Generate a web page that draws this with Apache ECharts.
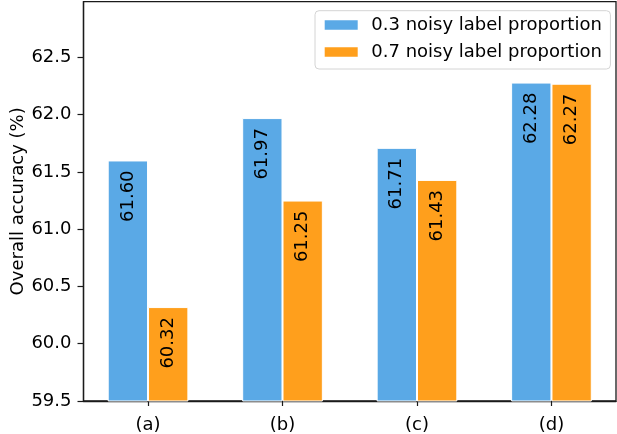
<!DOCTYPE html>
<html><head><meta charset="utf-8">
<script src="https://cdn.jsdelivr.net/npm/echarts@6/dist/echarts.min.js"></script>
<style>html,body{margin:0;padding:0;background:#fff}#c{width:617px;height:434px}</style>
</head><body><div id="c"></div>
<script>
const categories = ['(a)', '(b)', '(c)', '(d)'];
const series03 = [61.60, 61.97, 61.71, 62.28];
const series07 = [60.32, 61.25, 61.43, 62.27];
const seriesNames = ['0.3 noisy label proportion', '0.7 noisy label proportion'];
const yTicks = [59.5, 60.0, 60.5, 61.0, 61.5, 62.0, 62.5];

const FONT = 'DejaVu Sans';
const FS = 18;
const gridL = 83.5, gridR = 1, gridT = 1.7, gridB = 33;
const xMin = -0.48, xMax = 3.48, barFrac = 0.3;
const W = 617;
const barW = (W - gridL - gridR) / (xMax - xMin) * barFrac;

const chart = echarts.init(document.getElementById('c'), null, {renderer: 'canvas'});
const labelCfg = {
  show: true, position: 'insideTop', distance: 10, rotate: 90,
  align: 'right', verticalAlign: 'middle',
  fontFamily: FONT, fontSize: FS, color: '#000',
  formatter: p => p.value[1].toFixed(2)
};
chart.setOption({
  animation: false,
  textStyle: {fontFamily: FONT},
  grid: {left: gridL, right: gridR, top: gridT, bottom: gridB, containLabel: false, outerBoundsMode: 'none',
         show: true, borderColor: '#1a1a1a', borderWidth: 1.3},
  legend: {
    left: 315, top: 10.7, orient: 'vertical',
    padding: [4.3, 8.6, 7, 7.7], itemGap: 7,
    itemWidth: 35, itemHeight: 11.5, icon: 'rect',
    borderColor: '#d4d4d4', borderWidth: 1, borderRadius: 4, backgroundColor: '#fff',
    textStyle: {fontFamily: FONT, fontSize: FS, color: '#000', lineHeight: 20, padding: [0, 0, 0, 7.6]},
    data: seriesNames
  },
  xAxis: {
    type: 'value', min: xMin, max: xMax,
    splitLine: {show: false},
    axisLine: {show: true, onZero: false, lineStyle: {color: '#1a1a1a', width: 1.3}},
    axisTick: {show: true, length: 5, customValues: [0, 1, 2, 3], lineStyle: {color: '#1a1a1a', width: 1.2}},
    axisLabel: {customValues: [0, 1, 2, 3], formatter: v => categories[Math.round(v)], fontFamily: FONT, fontSize: FS, color: '#000', margin: 15}
  },
  yAxis: {
    type: 'value', min: 59.5, max: 62.986,
    splitLine: {show: false},
    name: 'Overall accuracy (%)', nameLocation: 'middle', nameGap: 56, nameMoveOverlap: false,
    nameTextStyle: {fontFamily: FONT, fontSize: FS, color: '#000'},
    axisLine: {show: true, onZero: false, lineStyle: {color: '#1a1a1a', width: 1.3}},
    axisTick: {show: true, length: 6, customValues: yTicks, lineStyle: {color: '#1a1a1a', width: 1.2}},
    axisLabel: {customValues: yTicks, formatter: v => v.toFixed(1), fontFamily: FONT, fontSize: FS, color: '#000', margin: 12}
  },
  series: [
    {name: seriesNames[0], type: 'bar', barWidth: barW, barGap: '-100%',
     itemStyle: {color: '#5aa9e6', borderColor: '#fff', borderWidth: 1},
     label: labelCfg,
     data: series03.map((v, i) => [i - 0.15, v])},
    {name: seriesNames[1], type: 'bar', barWidth: barW, barGap: '-100%',
     itemStyle: {color: '#ff9f1c', borderColor: '#fff', borderWidth: 1},
     label: labelCfg,
     data: series07.map((v, i) => [i + 0.15, v])}
  ]
});
</script></body></html>
